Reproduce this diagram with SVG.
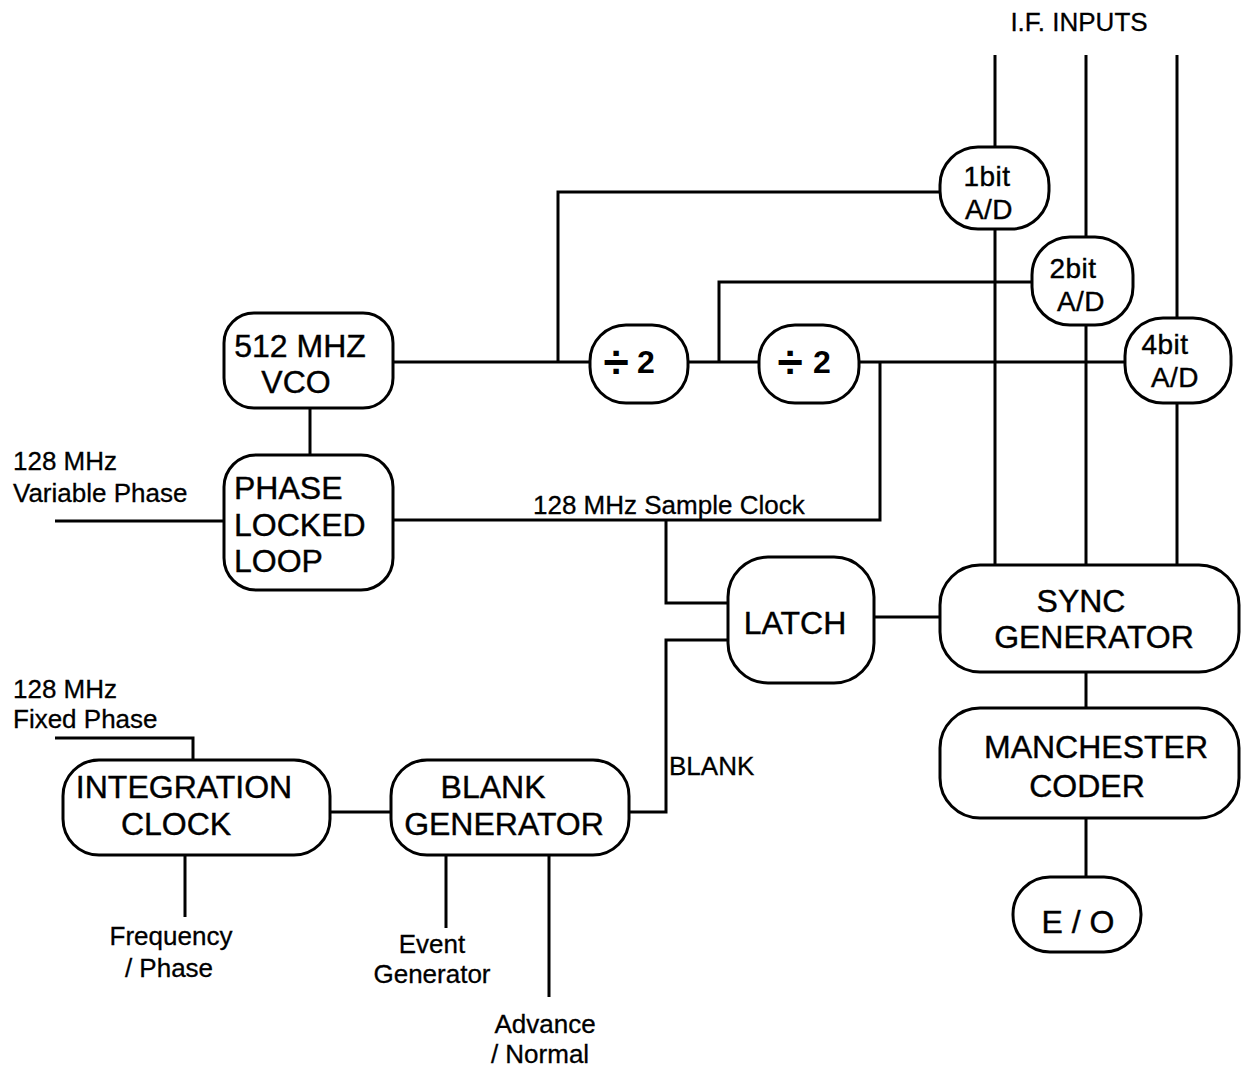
<svg xmlns="http://www.w3.org/2000/svg" width="1246" height="1075" viewBox="0 0 1246 1075">
<style>
.box{fill:#fff;stroke:#000;stroke-width:3}
.wire{fill:none;stroke:#000;stroke-width:3}
.t{font-family:"Liberation Sans",Arial,sans-serif;font-size:32px;fill:#000;stroke:#000;stroke-width:0.4;text-anchor:middle}
.a{font-size:28px;letter-spacing:0.5px}
.s{text-anchor:start}
.l{font-family:"Liberation Sans",Arial,sans-serif;font-size:26px;fill:#000;stroke:#000;stroke-width:0.3}
.c{text-anchor:middle}
.d{font-family:"Liberation Sans",Arial,sans-serif;font-weight:bold;fill:#000;text-anchor:middle}
</style>
<rect width="1246" height="1075" fill="#fff"/>
<g id="connectors">
<path class="wire" d="M995 55V148M995 228V565"/>
<path class="wire" d="M1086 55V237M1086 325V565"/>
<path class="wire" d="M1177 55V317M1177 403V565"/>
<path class="wire" d="M393 362H590M688 362H759M859 362H1125"/>
<path class="wire" d="M558 362V192H940"/>
<path class="wire" d="M719 362V282H1032"/>
<path class="wire" d="M880 362V520H393"/>
<path class="wire" d="M310 408V455"/>
<path class="wire" d="M55 521H224"/>
<path class="wire" d="M666 520V603H728"/>
<path class="wire" d="M728 640H666V812H629"/>
<path class="wire" d="M874 617H940"/>
<path class="wire" d="M1086 672V708M1086 818V877"/>
<path class="wire" d="M55 738H193V760"/>
<path class="wire" d="M330 812H391"/>
<path class="wire" d="M185 855V917M446 855V928M549 855V997"/>
</g>
<g id="if-inputs"><text class="l c" x="1079" y="31">I.F. INPUTS</text></g>
<g id="ad1"><rect class="box" x="940" y="147" width="109" height="82" rx="38"/><text class="t a" x="987" y="186">1bit</text><text class="t a" x="989" y="219">A/D</text></g>
<g id="ad2"><rect class="box" x="1032" y="237" width="101" height="88" rx="38"/><text class="t a" x="1073" y="278">2bit</text><text class="t a" x="1081" y="311">A/D</text></g>
<g id="ad4"><rect class="box" x="1125" y="318" width="106" height="85" rx="38"/><text class="t a" x="1165" y="354">4bit</text><text class="t a" x="1175" y="387">A/D</text></g>
<g id="vco"><rect class="box" x="224" y="313" width="169" height="95" rx="30"/><text class="t" x="300" y="357">512 MHZ</text><text class="t" x="296" y="393">VCO</text></g>
<g id="pll"><rect class="box" x="224" y="455" width="169" height="135" rx="32"/><text class="t s" x="234" y="499">PHASE</text><text class="t s" x="234" y="536">LOCKED</text><text class="t s" x="234" y="572">LOOP</text></g>
<g id="div1"><rect class="box" x="590" y="325" width="98" height="78" rx="36"/><text class="d" x="616" y="378" font-size="46">÷</text><text class="d" x="646" y="373" font-size="32">2</text></g>
<g id="div2"><rect class="box" x="759" y="325" width="100" height="78" rx="36"/><text class="d" x="790" y="378" font-size="46">÷</text><text class="d" x="822" y="373" font-size="32">2</text></g>
<g id="sample-label"><text class="l" x="533" y="514">128 MHz Sample Clock</text></g>
<g id="var-label"><text class="l" x="13" y="470">128 MHz</text><text class="l" x="13" y="502">Variable Phase</text></g>
<g id="latch"><rect class="box" x="728" y="557" width="146" height="126" rx="40"/><text class="t" x="795" y="634">LATCH</text></g>
<g id="blank-label"><text class="l" x="669" y="775">BLANK</text></g>
<g id="sync"><rect class="box" x="940" y="565" width="299" height="107" rx="40"/><text class="t" x="1081" y="612">SYNC</text><text class="t" x="1094" y="648">GENERATOR</text></g>
<g id="manchester"><rect class="box" x="940" y="708" width="299" height="110" rx="40"/><text class="t" x="1096" y="758">MANCHESTER</text><text class="t" x="1087" y="797">CODER</text></g>
<g id="eo"><rect class="box" x="1013" y="877" width="128" height="75" rx="37"/><text class="t" x="1078" y="933">E / O</text></g>
<g id="fixed-label"><text class="l" x="13" y="698">128 MHz</text><text class="l" x="13" y="728">Fixed Phase</text></g>
<g id="integration"><rect class="box" x="63" y="760" width="267" height="95" rx="36"/><text class="t" x="184" y="798">INTEGRATION</text><text class="t" x="176" y="835">CLOCK</text></g>
<g id="blankgen"><rect class="box" x="391" y="760" width="238" height="95" rx="36"/><text class="t" x="493" y="798">BLANK</text><text class="t" x="504" y="835">GENERATOR</text></g>
<g id="freq-label"><text class="l c" x="171" y="945">Frequency</text><text class="l c" x="169" y="977">/ Phase</text></g>
<g id="event-label"><text class="l c" x="432" y="953">Event</text><text class="l c" x="432" y="983">Generator</text></g>
<g id="advance-label"><text class="l c" x="545" y="1033">Advance</text><text class="l c" x="540" y="1063">/ Normal</text></g>
</svg>
